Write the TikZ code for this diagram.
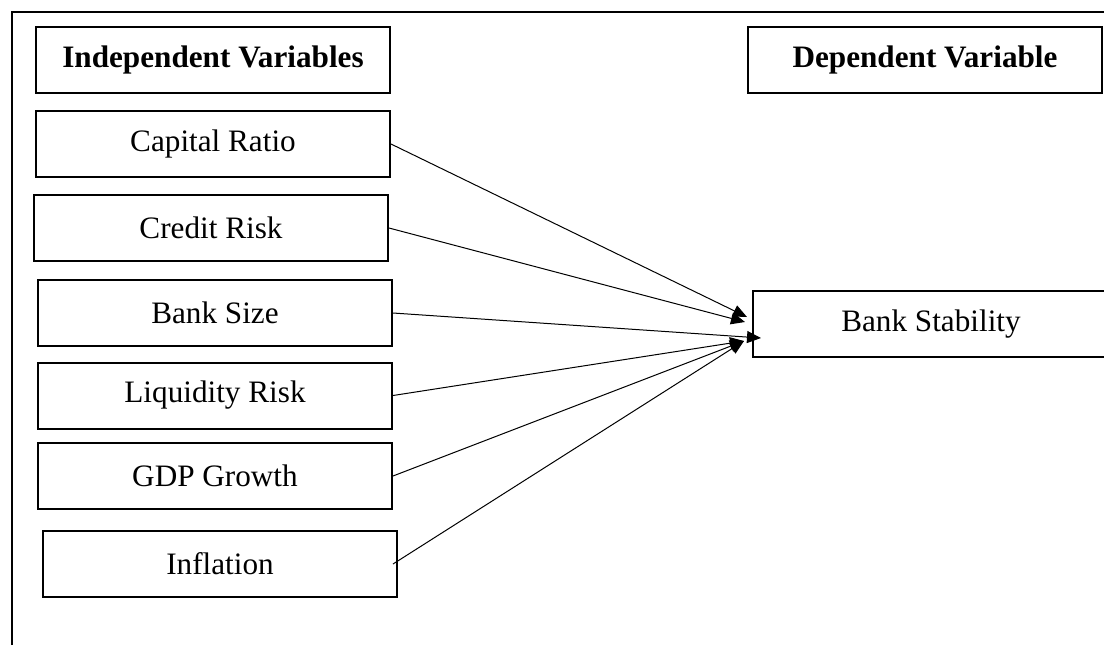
\documentclass[tikz,border=0pt]{standalone}
\usepackage{fontspec}
\setmainfont{Liberation Serif}
\usetikzlibrary{arrows.meta,positioning}

\tikzset{
   varbox/.style={draw, line width=1pt, minimum width=177pt, minimum height=33pt,
      inner sep=0pt, font=\fontsize{15.6}{18}\selectfont},
   headbox/.style={varbox, font=\fontsize{15.6}{18}\selectfont\bfseries},
   link/.style={line width=0.5pt, -{Triangle[length=7pt,width=6pt]}}
}

\begin{document}
\begin{tikzpicture}[x=0.5pt,y=-0.5pt]

   \useasboundingbox (0,0) rectangle (1104,645);
   \clip (0,0) rectangle (1104,645);

   \draw[line width=1pt] (12,645) -- (12,12) -- (1104,12);

   \node[headbox] (indep) at (213,59.5) {Independent Variables};
   \node[headbox] (dep) at (925,60) {Dependent Variable};

   \node[varbox] (cap)  at (213,144)   {Capital Ratio};
   \node[varbox] (cred) at (211,228)   {Credit Risk};
   \node[varbox] (size) at (215,313)   {Bank Size};
   \node[varbox] (liq)  at (215,395.5) {Liquidity Risk};
   \node[varbox] (gdp)  at (215,476)   {GDP Growth};
   \node[varbox] (infl) at (220,564)   {Inflation};

   \node[varbox, minimum width=178pt] (stab) at (931,324) {Bank Stability};

   \foreach \n/\sx/\dx/\dy in {cap/0/-2.5/3.5, cred/0/-3.5/1, size/0/4.5/-7,
                               liq/0/-4/-8.5, gdp/0/-4/-8.5, infl/-2.5/-4/-8.5}
   {
      \draw[link] ([xshift=\sx pt]\n.east) -- ([xshift=\dx pt,yshift=\dy pt]stab.west);
   }

\end{tikzpicture}
\end{document}
